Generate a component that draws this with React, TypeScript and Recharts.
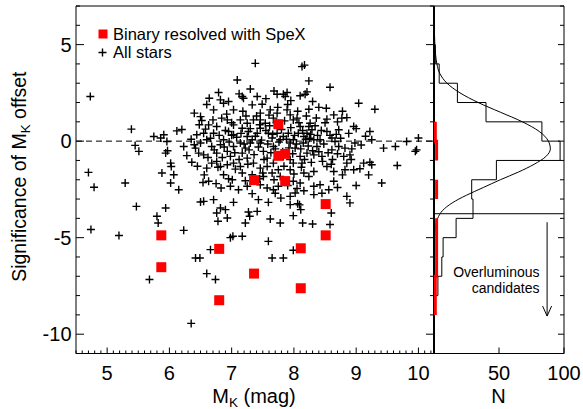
import { ScatterChart, Scatter, XAxis, YAxis, ReferenceLine } from 'recharts'

const W = 583
const H = 409
const FONT = '"Liberation Sans", Arial, Helvetica, sans-serif'

// [M_K (mag), significance of M_K offset]
const allStars: [number, number][] = [
  [4.73, 2.31], [5.39, 0.62], [5.45, -0.22], [5.51, -0.53], [4.70, -1.62], [4.79, -2.39], [5.29, -2.17],
  [5.75, 0.24], [5.86, 0.16], [5.91, 0.33], [5.96, -0.02], [5.97, -0.50], [5.94, -0.62], [6.02, -1.14],
  [6.03, -1.31], [5.88, -1.65], [6.02, -2.17], [6.07, -1.74], [6.12, 0.53], [6.15, -2.52], [6.23, -0.28],
  [6.40, -0.19], [6.36, -1.09], [6.42, -0.36],
  [6.50, 1.27], [6.52, 1.07], [6.64, 2.22], [6.79, 2.52], [6.82, 2.14], [6.87, 1.96], [6.71, 1.62],
  [7.03, 1.62], [7.17, 2.31], [7.19, 2.22], [7.09, 3.17], [7.38, 4.03], [7.41, 2.31], [7.33, 1.88],
  [7.49, 1.91], [7.62, 1.62], [7.46, 1.45], [7.73, 2.43], [7.83, 2.43], [7.86, 2.31], [7.89, 2.52],
  [7.89, 1.62], [8.13, 3.86], [8.17, 3.94], [8.24, 3.12], [8.18, 2.43], [8.21, 2.55], [8.24, 1.65],
  [8.05, 1.19], [8.58, 2.79], [9.04, 1.96], [9.30, 1.65],
  [8.53, 1.14], [8.64, 1.36], [8.77, 1.19], [8.85, 1.22], [8.96, 0.76], [9.22, 0.50], [9.25, 0.07],
  [9.44, -0.36], [9.63, -0.28], [9.81, -0.02], [9.95, -0.53], [10.0, 0.16], [9.97, -0.45], [9.66, -1.26],
  [9.41, -2.17], [9.12, -1.14], [9.22, -1.09], [9.25, -1.22], [9.06, -1.43], [8.96, -1.48], [8.85, -1.14],
  [8.80, -0.79], [8.90, -0.71], [8.98, -0.10], [8.82, -0.36], [8.61, 0.16], [8.66, -0.02], [8.72, 0.59],
  [8.72, -0.28], [8.61, -0.45], [8.53, 0.50], [8.42, 0.07], [8.37, -0.28], [8.32, -0.71], [8.45, -0.79],
  [8.21, -0.62], [8.10, -0.79], [8.13, -1.14], [7.99, -1.14], [8.53, -1.31], [8.64, -1.57], [8.82, -1.48],
  [8.32, -1.57], [8.16, -1.65], [8.24, -1.83], [8.42, -2.26], [8.64, -2.08], [8.56, -2.52], [8.85, -2.86],
  [8.16, -2.57], [8.32, -2.77], [7.94, -2.86], [8.02, -2.69],
  [7.67, -2.52], [7.57, -2.43], [7.33, -2.72], [7.11, -2.52], [7.01, -2.00], [6.87, -1.74], [6.63, -2.08],
  [6.54, -2.14], [6.83, -2.43], [6.60, -1.40], [6.68, -1.14], [6.76, -1.05], [6.47, -0.62], [6.55, -0.71],
  [6.50, -0.10], [6.60, 0.07], [6.68, -0.28], [6.76, -0.62], [6.82, -0.19], [6.87, 0.07], [6.93, -0.53],
  [6.98, -0.79], [7.03, -0.28], [7.14, -0.10], [7.17, -0.62], [7.22, -0.36], [7.25, 0.24], [7.27, 0.50],
  [7.33, 0.07], [7.41, 0.41], [7.46, -0.10], [7.51, -0.53], [7.57, -0.88], [7.59, 0.41], [7.65, 0.16],
  [7.67, -0.28], [7.73, 0.41], [7.78, 0.07], [7.83, 0.24], [7.91, 0.41], [7.94, -0.10], [7.99, 0.07],
  [8.02, -0.36], [8.07, 0.41], [8.10, 0.76], [8.16, 0.24], [8.21, 0.41], [8.24, 0.76], [8.26, 0.93],
  [8.29, 0.59], [8.32, 0.07], [7.99, 1.10], [7.94, 1.36], [7.73, 1.45], [7.67, 1.19], [7.46, 1.10],
  [7.35, 1.10], [7.25, 0.93], [7.14, 1.10], [7.03, 0.84], [6.93, 1.10], [6.84, 1.19], [6.76, 0.76],
  [6.63, 0.84], [6.55, 0.41], [6.44, 0.33], [6.95, 0.50], [7.03, 0.33], [6.71, 0.41], [7.17, 0.67],
  [7.46, 0.67], [7.54, 0.93], [6.82, -1.31], [6.93, -1.22], [7.03, -1.14], [7.14, -1.31], [7.25, -0.88],
  [7.35, -1.14], [7.46, -1.40], [7.57, -1.31], [7.67, -1.14], [7.75, -1.48], [7.83, -0.79], [7.94, -0.96],
  [7.17, -1.65], [7.33, -1.74], [7.51, -1.83], [7.65, -1.65], [7.78, -1.83], [7.94, -1.48], [7.99, -2.08],
  [8.32, -2.34], [8.10, -2.17], [6.98, -2.34], [7.25, -2.34], [7.46, -2.26], [7.75, -2.34],
  [6.58, 0.62], [6.66, 0.15], [6.72, -0.45], [6.80, 0.30], [6.85, -0.85], [6.90, 0.55], [6.96, -0.05],
  [7.00, 0.95], [7.05, -0.60], [7.08, 0.20], [7.12, -0.95], [7.15, 0.40], [7.20, -0.15], [7.23, 1.30],
  [7.28, -0.45], [7.30, 0.65], [7.36, -0.70], [7.38, 0.25], [7.43, -0.30], [7.45, 0.85], [7.48, 0.05],
  [7.52, -0.95], [7.55, 0.55], [7.58, -0.15], [7.61, 0.80], [7.63, -0.60], [7.66, 0.35], [7.70, -0.40],
  [7.72, 0.95], [7.76, -0.05], [7.80, 0.60], [7.82, -0.55], [7.85, 1.05], [7.88, 0.10], [7.92, -0.35],
  [7.95, 0.70], [7.98, -0.65], [8.01, 0.30], [8.04, -0.15], [8.08, 0.95], [8.11, -0.40], [8.14, 0.55],
  [8.17, -0.95], [8.19, 0.10], [8.23, -0.25], [8.27, 0.35], [8.30, -0.50], [8.34, 0.80], [8.38, 0.30],
  [8.40, -0.55], [8.44, 0.55], [8.48, -0.15], [8.50, 0.95], [8.55, -0.60], [8.58, 0.30], [8.62, -0.95],
  [8.68, 0.35], [8.70, -0.65], [8.75, 0.15], [8.88, 0.40], [8.93, -0.40], [9.00, 0.65], [9.08, -0.20],
  [9.15, 0.25], [6.62, -0.85], [6.70, 1.10], [6.78, -1.35], [6.92, 1.40], [7.06, -1.45], [7.18, 1.55],
  [7.26, -1.20], [7.40, 1.30], [7.50, -1.65], [7.60, 1.35], [7.68, -2.00], [7.74, 1.75], [7.84, -1.30],
  [7.90, 1.90], [8.00, -1.70], [8.06, 1.55], [8.12, -1.35], [8.20, 1.30], [8.28, -1.10], [8.36, 1.20],
  [8.46, -1.05], [8.52, 1.70], [8.60, -1.20], [8.70, 1.00], [8.78, -1.75], [8.92, -0.95], [6.48, 0.85],
  [6.45, -1.30], [6.35, 0.10], [6.28, -0.75], [6.20, 0.60], [6.56, -1.75], [6.75, -2.20], [6.95, -1.95],
  [7.22, -2.05], [7.45, -1.95], [7.70, -2.70], [7.90, -2.30], [8.05, -2.45], [8.45, -2.70], [8.70, -2.40],
  [9.00, -2.30], [9.20, -1.75], [6.40, 1.45], [6.60, 1.90], [6.95, 2.05], [7.12, 2.45], [7.30, 2.70],
  [7.55, 2.20], [7.68, 2.60], [7.95, 2.10], [8.10, 2.35], [8.30, 2.05], [8.40, 1.75], [8.78, 1.55],
  [8.25, 0.15], [8.15, -0.10], [7.30, -0.10], [7.00, 0.30], [6.88, -0.30],
  [5.47, -3.38], [5.80, -3.89], [5.82, -4.24], [5.94, -3.46], [4.74, -4.58], [5.19, -4.89], [6.23, -4.62],
  [5.68, -7.17], [6.42, -6.05], [6.49, -6.05], [6.60, -6.86], [6.74, -7.17], [6.35, -9.44], [6.66, -5.62],
  [6.55, -3.12], [6.50, -3.15], [6.71, -3.03], [6.76, -3.72], [6.78, -4.15], [6.82, -3.46], [6.90, -3.55],
  [6.93, -3.98], [6.98, -5.00], [7.02, -4.93], [7.17, -4.93], [7.03, -3.17], [7.22, -4.24], [7.27, -3.67],
  [7.29, -3.89], [7.43, -3.03], [7.41, -3.64], [7.59, -5.19], [7.62, -4.03], [7.65, -6.05], [7.59, -3.17],
  [7.78, -4.24], [7.79, -2.95], [7.83, -6.05], [7.94, -3.29], [7.99, -3.86], [7.99, -5.65], [8.06, -3.24],
  [8.09, -3.30], [8.11, -3.55], [8.14, -4.24], [8.30, -4.29], [8.60, -3.72], [8.58, -4.32], [8.90, -3.20],
]

// binaries resolved with SpeX
const binaries: [number, number][] = [
  [7.75, 0.88], [7.75, -0.76], [7.86, -0.66], [7.36, -2.02], [7.86, -2.07], [8.51, -3.26], [5.87, -4.88],
  [8.51, -4.88], [6.80, -5.58], [8.11, -5.55], [5.87, -6.53], [7.36, -6.86], [8.11, -7.62], [6.80, -8.24],
]

// side histogram: unit bins, listed by their top edge
const binTops = [5, 4, 3, 2, 1, 0, -1, -2, -3, -4, -5, -6, -7, -8]
const binCounts = [1, 4, 18, 40, 83, 97, 48, 29, 30, 17, 7, 6, 3, 0]
const binaryCounts = [0, 0, 0, 0, 1, 2, 0, 2, 0, 2, 2, 2, 1, 1]

// gaussian fit
const gaussSig = [5.5, 4.5, 4.0, 3.5, 3.0, 2.5, 2.0, 1.5, 1.0, 0.5, 0.0, -0.4, -0.8, -1.2, -1.6, -2.0, -2.4, -2.8, -3.2, -3.6, -4.0, -4.5, -5.0]
const gaussN = [0.4, 1.2, 2.2, 4.5, 10, 20, 34, 51, 68, 81, 88, 89.5, 86, 77, 65, 51, 38, 25, 14, 6.5, 2.8, 1.0, 0.4]

const cutLevel = -3.76
const arrowN = 87
const arrowFrom = -4.2
const arrowTo = -9.06

const xMajor = [5, 6, 7, 8, 9, 10]
const xTicks = Array.from({ length: 58 }, (_, i) => Math.round((4.5 + i * 0.1) * 10) / 10)
const yMajor = [-10, -5, 0, 5]
const yTicks = Array.from({ length: 19 }, (_, i) => i - 11)
const nTicks = [0, 50, 100]
const nLabels = [50, 100]

const starData = allStars.map(([x, y]) => ({ x, y }))
const binaryData = binaries.map(([x, y]) => ({ x, y }))
const histData = [
  { n: 0, v: binTops[0] },
  ...binTops.flatMap((t, i) => [{ n: binCounts[i], v: t }, { n: binCounts[i], v: t - 1 }]),
  { n: 0, v: binTops[binTops.length - 1] - 1 },
]
const redRuns: { n: number; v: number }[][] = []
binTops.forEach((t, i) => {
  const c = binaryCounts[i]
  if (!c) return
  const prev = i > 0 ? binaryCounts[i - 1] : 0
  if (!prev) redRuns.push([])
  redRuns[redRuns.length - 1].push({ n: c, v: t }, { n: c, v: t - 1 })
})
const gaussData = gaussSig.map((v, i) => ({ v, n: gaussN[i] }))

const Plus = (p: any) => (
  <path d={`M${p.cx - 4},${p.cy}h8M${p.cx},${p.cy - 4}v8`} stroke="#000" strokeWidth={1.4} fill="none" />
)
const Square = (p: any) => <rect x={p.cx - 5} y={p.cy - 5} width={10} height={10} fill="#ff0000" />
const Nothing = () => <g />
const Arrow = (p: any) => (
  <g stroke="#000" strokeWidth={1} fill="none">
    <line x1={p.x1} y1={p.y1} x2={p.x2} y2={p.y2} />
    <path d={`M${p.x2 - 4.5},${p.y2 - 10}L${p.x2},${p.y2}L${p.x2 + 4.5},${p.y2 - 10}`} />
  </g>
)

// inward ticks; the tick props land exactly on the axis line because tickSize and tickMargin are 0
const tickText = { fontSize: 20, fontFamily: FONT, fill: '#000' }
const makeTick = (side: 'bottom' | 'top' | 'left' | 'right', major: number[], labels: number[], long: number, short: number) =>
  (p: any) => {
    const v = p.payload.value
    const len = major.includes(v) ? long : short
    const { x, y } = p
    const ln =
      side === 'bottom' ? <line x1={x} y1={y} x2={x} y2={y - len} /> :
      side === 'top' ? <line x1={x} y1={y} x2={x} y2={y + len} /> :
      side === 'left' ? <line x1={x} y1={y} x2={x + len} y2={y} /> :
      <line x1={x} y1={y} x2={x - len} y2={y} />
    return (
      <g>
        <g stroke="#000" strokeWidth={1}>{ln}</g>
        {labels.includes(v) && side === 'bottom' && (
          <text x={x} y={y + 26} textAnchor="middle" {...tickText}>{v}</text>
        )}
        {labels.includes(v) && side === 'left' && (
          <text x={x - 4.5} y={y + 7} textAnchor="end" {...tickText}>{v}</text>
        )}
      </g>
    )
  }

const line = { stroke: '#000' }
const common = { type: 'number' as const, allowDataOverflow: true, interval: 0 as const, tickLine: false, tickSize: 0, tickMargin: 0 }

export default function App() {
  return (
    <div style={{ position: 'absolute', left: 0, top: 0, width: W, height: H, background: '#fff', fontFamily: FONT }}>
      <div style={{ position: 'absolute', left: 0, top: 0 }}>
        <ScatterChart width={W} height={H} margin={{ top: 5, right: 148, bottom: 54.5, left: 75 }}>
          <XAxis {...common} dataKey="x" domain={[4.5, 10.25]} ticks={xTicks} height={1} axisLine={line}
            tick={makeTick('bottom', xMajor, xMajor, 6, 3)} />
          <XAxis {...common} xAxisId="t" orientation="top" domain={[4.5, 10.25]} ticks={xTicks} height={1}
            axisLine={line} tick={makeTick('top', xMajor, [], 6, 3)} />
          <YAxis {...common} dataKey="y" domain={[-11, 7]} ticks={yTicks} width={1} axisLine={line}
            tick={makeTick('left', yMajor, yMajor, 8, 4)} />
          <YAxis {...common} yAxisId="r" orientation="right" domain={[-11, 7]} ticks={yTicks} width={1}
            axisLine={line} tick={makeTick('right', yMajor, [], 8, 4)} />
          <ReferenceLine y={0} stroke="#000" strokeDasharray="6 4" />
          <Scatter data={starData} shape={Plus} fill="#000" isAnimationActive={false} />
          <Scatter data={binaryData} shape={Square} fill="#ff0000" isAnimationActive={false} />
        </ScatterChart>
      </div>

      <div style={{ position: 'absolute', left: 0, top: 0 }}>
        <ScatterChart width={W} height={H} margin={{ top: 5, right: 18, bottom: 54.5, left: 433 }}>
          <XAxis {...common} dataKey="n" domain={[0, 100]} ticks={nTicks} height={1} axisLine={line}
            tick={makeTick('bottom', nTicks, nLabels, 6, 6)} />
          <XAxis {...common} xAxisId="t" orientation="top" domain={[0, 100]} ticks={nTicks} height={1}
            axisLine={line} tick={makeTick('top', nTicks, [], 6, 6)} />
          <YAxis {...common} dataKey="v" domain={[-11, 7]} ticks={yTicks} width={1} tick={false}
            axisLine={{ stroke: '#000', strokeWidth: 2 }} />
          <YAxis {...common} yAxisId="r" orientation="right" domain={[-11, 7]} ticks={yTicks} width={1}
            axisLine={line} tick={makeTick('right', yMajor, [], 6, 4)} />
          <ReferenceLine y={cutLevel} stroke="#000" strokeWidth={1} />
          <ReferenceLine segment={[{ x: arrowN, y: arrowFrom }, { x: arrowN, y: arrowTo }]} shape={Arrow} />
          <Scatter data={histData} shape={Nothing} fill="#000" line={{ stroke: '#000', strokeWidth: 1 }}
            isAnimationActive={false} />
          <Scatter data={gaussData} shape={Nothing} fill="#000" line={{ stroke: '#000', strokeWidth: 1 }}
            lineJointType="monotoneY" isAnimationActive={false} />
          {redRuns.map((run, i) => (
            <Scatter key={i} data={run} shape={Nothing} fill="#ff0000" line={{ stroke: '#ff0000', strokeWidth: 3 }}
              isAnimationActive={false} />
          ))}
        </ScatterChart>
      </div>

      <svg width={W} height={H} style={{ position: 'absolute', left: 0, top: 0, pointerEvents: 'none' }}
        fontFamily={FONT} fill="#000">
        <rect x={98.5} y={29.5} width={9} height={9} fill="#ff0000" />
        <path d="M98.5,52.5h8M102.5,48.5v8" stroke="#000" strokeWidth={1.4} />
        <text x={113} y={39.5} fontSize={16.5}>Binary resolved with SpeX</text>
        <text x={113} y={58} fontSize={16.5}>All stars</text>

        <text x={539.5} y={277.3} fontSize={14} textAnchor="end">Overluminous</text>
        <text x={539.5} y={293.3} fontSize={14} textAnchor="end">candidates</text>

        <text x={254} y={402.5} fontSize={20} textAnchor="middle">
          M<tspan fontSize={13.5} dy={4}>K</tspan><tspan dy={-4}>{' (mag)'}</tspan>
        </text>
        <text x={498.5} y={402.5} fontSize={20} textAnchor="middle">N</text>
        <text x={26.5} y={176.7} fontSize={19.5} textAnchor="middle" transform="rotate(-90, 26.5, 176.7)">
          Significance of M<tspan fontSize={13.5} dy={4}>K</tspan><tspan dy={-4}>{' offset'}</tspan>
        </text>
      </svg>
    </div>
  )
}
